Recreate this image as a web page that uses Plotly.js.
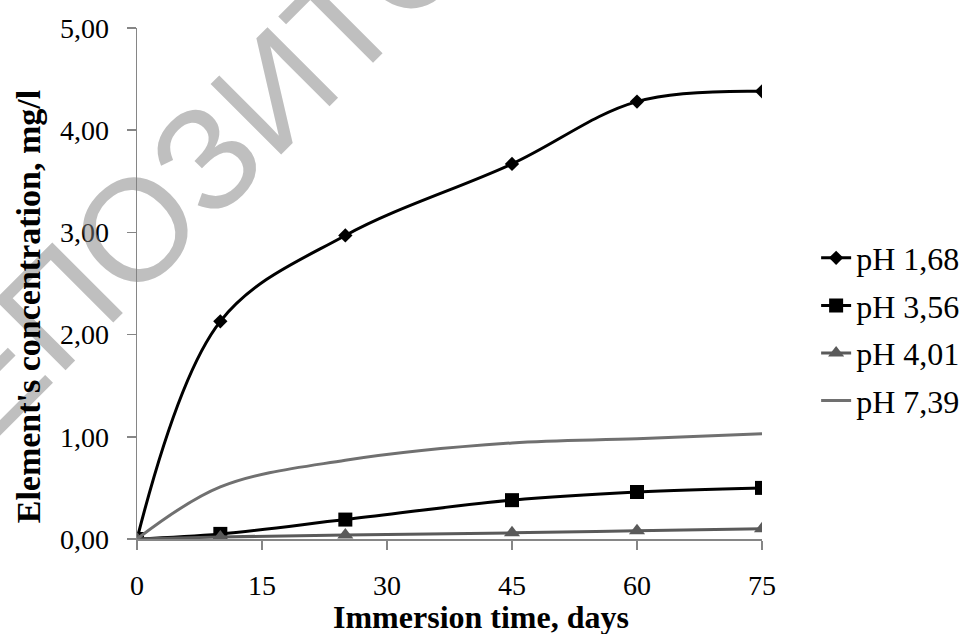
<!DOCTYPE html>
<html>
<head>
<meta charset="utf-8">
<script src="https://cdn.plot.ly/plotly-3.0.1.min.js"></script>
<style>html,body{margin:0;padding:0;background:#fff;}#chart{width:965px;height:634px;}</style>
</head>
<body>
<div id="chart"></div>
<script>
const days = [0, 10, 25, 45, 60, 75];
const ph168 = [0, 2.13, 2.97, 3.67, 4.28, 4.38];
const ph356 = [0, 0.05, 0.19, 0.38, 0.46, 0.50];
const ph401 = [0, 0.02, 0.04, 0.06, 0.08, 0.10];
const ph739 = [0, 0.51, 0.77, 0.94, 0.98, 1.03];
const seriesNames = ['pH 1,68', 'pH 3,56', 'pH 4,01', 'pH 7,39'];
const xTicks = [0, 15, 30, 45, 60, 75];
const yTicks = [0, 1, 2, 3, 4, 5];
const yTickText = ['0,00', '1,00', '2,00', '3,00', '4,00', '5,00'];
const xTitle = 'Immersion time, days';
const yTitle = 'Element\'s concentration, mg/l';
const watermark = 'РЕПОЗИТОРИЙ';

const serif = 'Liberation Serif, Times New Roman, serif';

const traces = [
  {x: days, y: ph168, name: seriesNames[0], legendgroup: 'a', mode: 'lines+markers',
   line: {color: '#000000', width: 3, shape: 'spline', smoothing: 1},
   marker: {symbol: 'diamond', size: 11, color: '#000000'}},
  {x: days, y: ph356, name: seriesNames[1], legendgroup: 'b', mode: 'lines+markers',
   line: {color: '#000000', width: 3, shape: 'spline', smoothing: 1},
   marker: {symbol: 'square', size: 14, color: '#000000'}},
  {x: days, y: ph401, name: seriesNames[2], legendgroup: 'c', mode: 'lines+markers',
   line: {color: '#5a5a5a', width: 3, shape: 'spline', smoothing: 1},
   marker: {symbol: 'triangle-up', size: 14, color: '#5a5a5a'}},
  {x: days, y: ph739, name: seriesNames[3], legendgroup: 'd', mode: 'lines',
   line: {color: '#707070', width: 3, shape: 'spline', smoothing: 1}}
];

const layout = {
  width: 965, height: 634,
  paper_bgcolor: '#ffffff', plot_bgcolor: '#ffffff',
  margin: {l: 137, r: 203, t: 28, b: 95, autoexpand: false},
  font: {family: serif, size: 28, color: '#000000'},
  showlegend: true,
  legend: {x: 1.325, y: 0.410, xanchor: 'right', yanchor: 'middle',
           font: {family: serif, size: 32, color: '#000000'},
           tracegroupgap: 3, bgcolor: 'rgba(0,0,0,0)'},
  xaxis: {range: [0, 75], tickvals: xTicks, ticktext: xTicks.map(String),
          showgrid: false, zeroline: false, showline: true, linecolor: '#868686', linewidth: 1.5,
          ticks: 'outside', ticklen: 9, tickcolor: '#868686', tickwidth: 1.5,
          ticklabelstandoff: 12,
          tickfont: {family: serif, size: 28, color: '#000'}},
  yaxis: {range: [0, 5], tickvals: yTicks, ticktext: yTickText,
          showgrid: false, zeroline: false, showline: true, linecolor: '#868686', linewidth: 1.5,
          ticks: 'outside', ticklen: 9, tickcolor: '#868686', tickwidth: 1.5,
          ticklabelstandoff: 12,
          tickfont: {family: serif, size: 28, color: '#000'}},
  annotations: [
    {text: watermark, xref: 'paper', yref: 'paper', x: 0.221, y: 0.878,
     xanchor: 'center', yanchor: 'middle', showarrow: false, textangle: -45,
     font: {family: 'Liberation Sans, Arial, sans-serif', size: 145, color: 'rgba(128,128,128,0.5)'}},
    {text: '<b>' + xTitle + '</b>', xref: 'paper', yref: 'paper', x: 0.551, y: -0.152,
     xanchor: 'center', yanchor: 'middle', showarrow: false,
     font: {family: serif, size: 32, color: '#000'}},
    {text: '<b>' + yTitle + '</b>', xref: 'paper', yref: 'paper', x: -0.174, y: 0.454,
     xanchor: 'center', yanchor: 'middle', showarrow: false, textangle: -90,
     font: {family: serif, size: 34, color: '#000'}}
  ]
};

Plotly.newPlot('chart', traces, layout, {displayModeBar: false, staticPlot: true});
</script>
</body>
</html>
